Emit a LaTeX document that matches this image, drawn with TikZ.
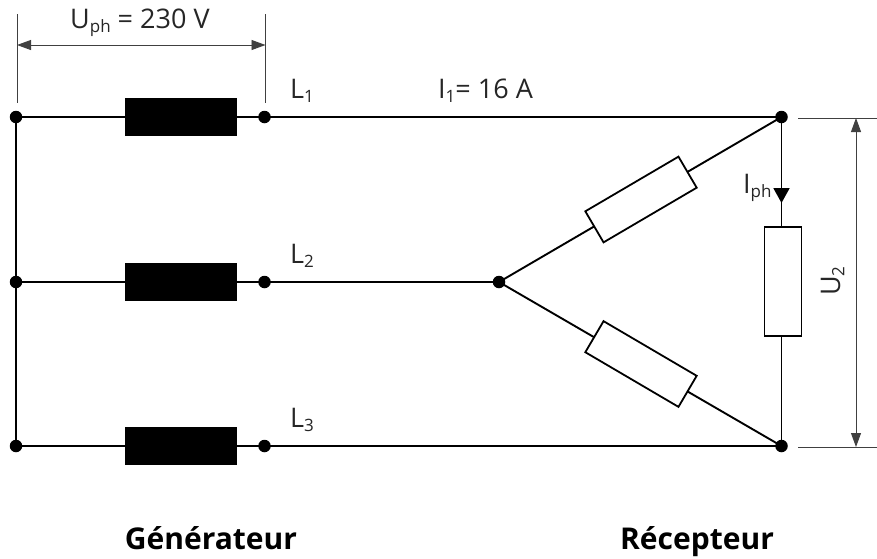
\documentclass[tikz,border=0pt]{standalone}
\usepackage{fontspec}
\setmainfont{Open Sans}
\usetikzlibrary{arrows.meta}
\newcommand{\sbs}[1]{\raisebox{-0.16em}{\fontsize{17}{20}\selectfont #1}}
\tikzset{
  wire/.style={draw=black,line width=1.9pt},
  dimline/.style={draw=black!75,line width=0.9pt},
  dot/.style={circle,fill=black,inner sep=0pt,minimum size=12.5pt},
  coil/.style={rectangle,fill=black,draw=black,minimum width=111pt,minimum height=37pt,inner sep=0pt},
  res/.style={rectangle,fill=white,draw=black,line width=1.8pt,minimum width=108pt,minimum height=36pt,inner sep=0pt},
  lbl/.style={font=\fontsize{27}{30}\selectfont,inner sep=0pt,text=black!85},
  big/.style={font=\fontsize{30}{34}\selectfont\bfseries,inner sep=0pt,text=black},
  dimarrow/.style={dimline,{Triangle[length=14pt,width=10pt]}-{Triangle[length=14pt,width=10pt]}},
  currentarrow/.style={-{Triangle[length=15pt,width=16pt]}},
}
\begin{document}
\begin{tikzpicture}[x=1pt,y=-1pt]
\useasboundingbox[fill=white] (0,0) rectangle (877,558);
\node[dot] (a1) at (16,117) {};
\node[dot] (a2) at (16,282) {};
\node[dot] (a3) at (16,446) {};
\node[dot] (b1) at (264.5,117) {};
\node[dot] (b2) at (264.5,282) {};
\node[dot] (b3) at (264.5,446) {};
\node[dot] (n) at (499,282) {};
\node[dot] (t) at (781.5,117) {};
\node[dot] (u) at (781.5,446) {};
\path[wire] (a1.center) -- (a2.center) -- (a3.center);
\path[wire] (a1.center) -- (b1.center) -- (t.center);
\path[wire] (a2.center) -- (b2.center) -- (n.center);
\path[wire] (a3.center) -- (b3.center) -- (u.center);
\path[wire] (n.center) -- (t.center);
\path[wire] (n.center) -- (u.center);
\path[wire] (t.center) -- (u.center);
\node[coil] (g1) at (180.5,117) {};
\node[coil] (g2) at (180.5,282) {};
\node[coil] (g3) at (180.5,446) {};
\node[res,rotate=90,minimum width=109pt,minimum height=37pt] (r3) at (783,281.5) {};
\node[res,rotate=30.4] (r1) at (641,199.5) {};
\node[res,rotate=-30.4] (r2) at (641,364) {};
% current arrow
\coordinate (iphA) at (781.5,170);
\coordinate (iphB) at (781.5,203);
\path[wire,currentarrow] (iphA) -- (iphB);
% voltage dimension, top
\coordinate (d1) at (17,14);
\coordinate (d2) at (17,103);
\coordinate (d3) at (265.5,14);
\coordinate (d4) at (265.5,103);
\coordinate (d5) at (17,45);
\coordinate (d6) at (265.5,45);
\path[dimline] (d1) -- (d2);
\path[dimline] (d3) -- (d4);
\path[dimarrow] (d5) -- (d6);
% voltage dimension, right
\coordinate (e1) at (798,118);
\coordinate (e2) at (877,118);
\coordinate (e3) at (798,447);
\coordinate (e4) at (877,447);
\coordinate (e5) at (856,118);
\coordinate (e6) at (856,447);
\path[dimline] (e1) -- (e2);
\path[dimline] (e3) -- (e4);
\path[dimarrow] (e5) -- (e6);
% labels
\node[lbl,anchor=base west] (tU) at (70,28) {U\sbs{ph} = 230 V};
\node[lbl,anchor=base west] (tL1) at (290,98) {L\sbs{1}};
\node[lbl,anchor=base west] (tI1) at (438,98) {I\sbs{1}= 16 A};
\node[lbl,anchor=base west] (tL2) at (290,263) {L\sbs{2}};
\node[lbl,anchor=base west] (tL3) at (290,427) {L\sbs{3}};
\node[lbl,anchor=base west] (tIph) at (743,193) {I\sbs{ph}};
\node[lbl,rotate=90,anchor=base] (tU2) at (840,281) {U\sbs{2}};
\node[big,anchor=base] (gen) at (211,549) {Générateur};
\node[big,anchor=base] (rec) at (697,549) {Récepteur};
\end{tikzpicture}
\end{document}
